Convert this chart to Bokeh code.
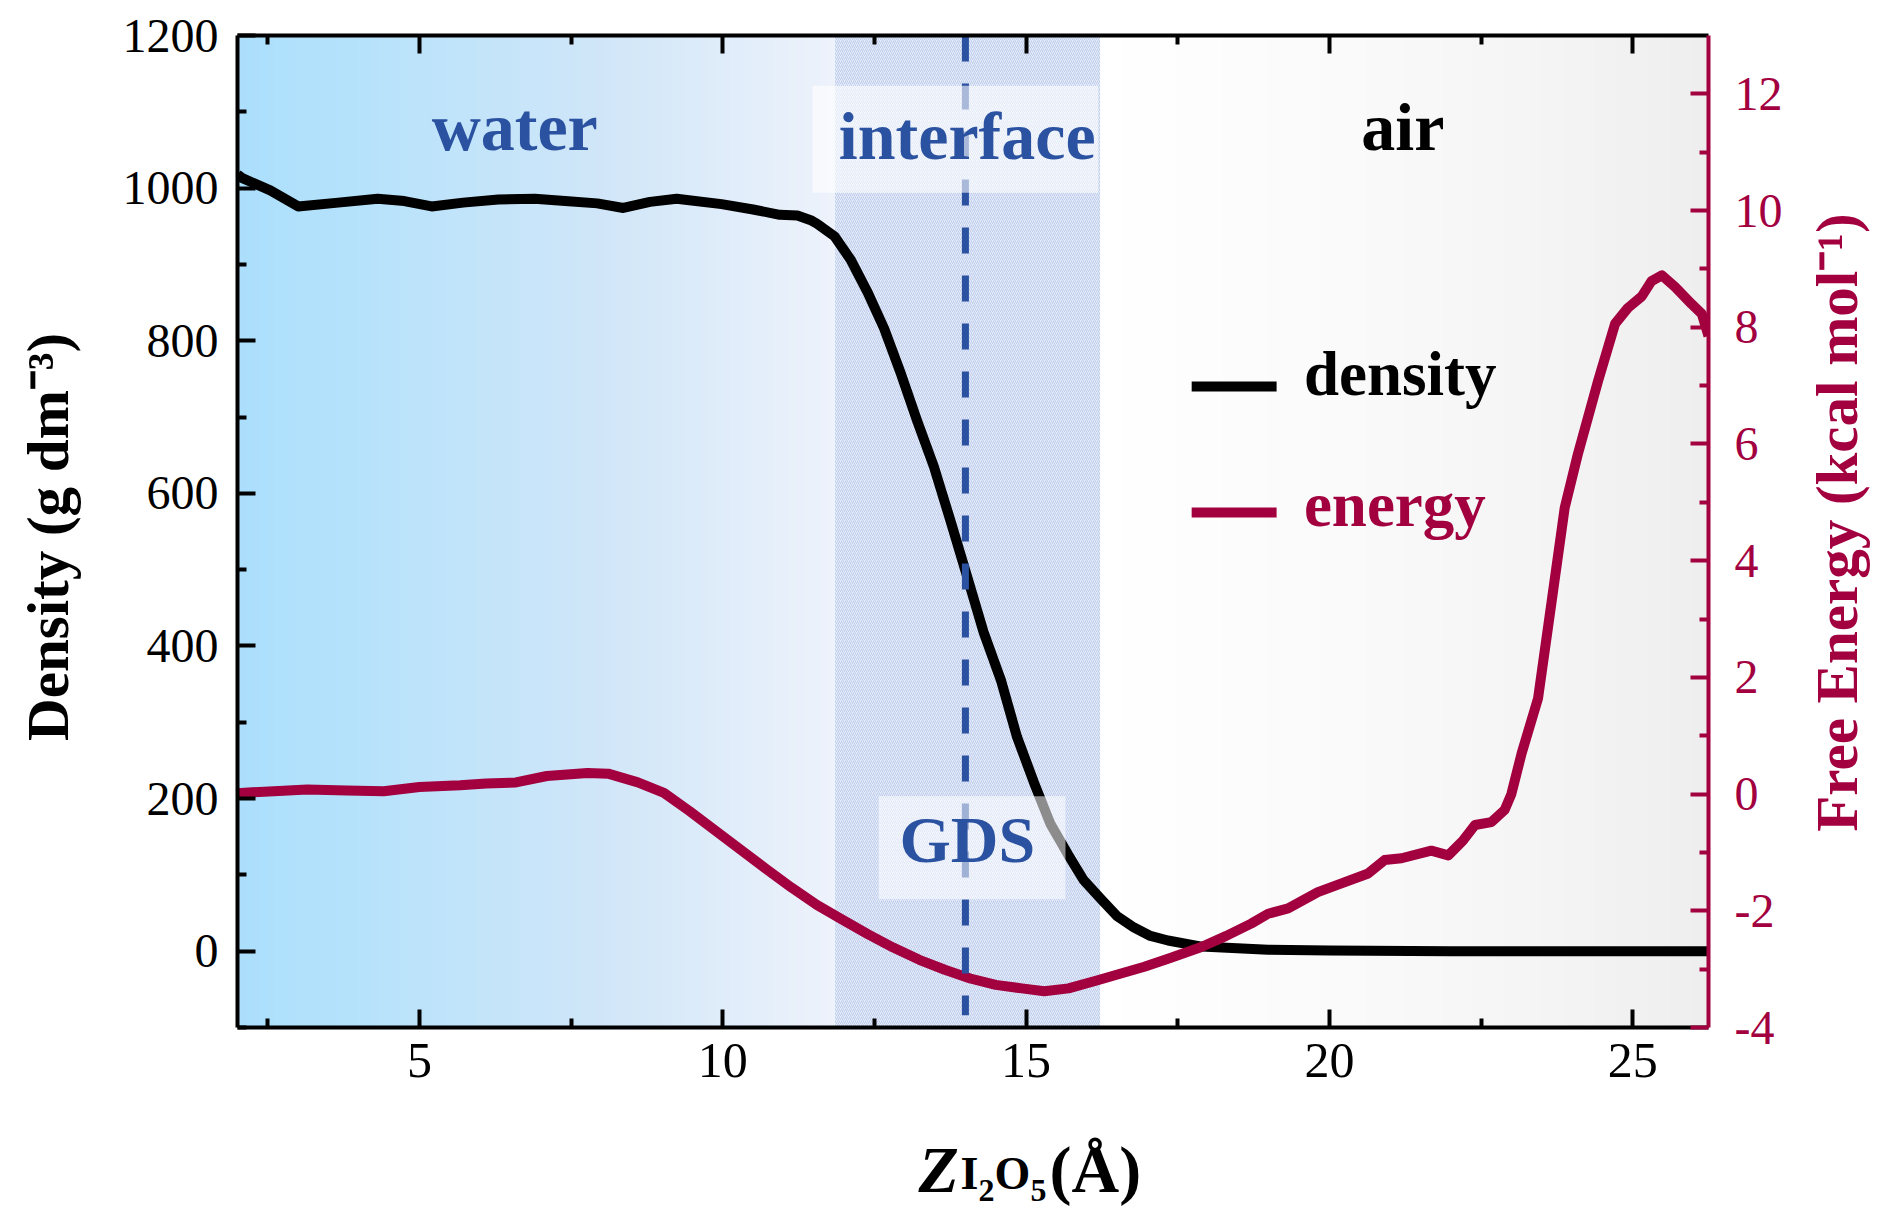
import numpy as np
from math import pi
from bokeh.plotting import figure
from bokeh.layouts import column, row
from bokeh.models import Range1d, LinearAxis, FixedTicker, Label, BoxAnnotation
from bokeh.core.properties import value
from bokeh.embed import file_html
from bokeh.resources import INLINE

# density profile, g dm^-3
z_density = [2.00, 2.08, 2.54, 3.00, 3.66, 4.31, 4.75, 5.20, 5.72, 6.30, 6.90, 7.40, 7.93,
             8.36, 8.80, 9.24, 9.98, 10.50, 10.94, 11.23, 11.45, 11.56, 11.84, 12.11, 12.39,
             12.66, 12.94, 13.20, 13.48, 13.75, 14.04, 14.30, 14.59, 14.85, 15.13, 15.40,
             15.69, 15.95, 16.24, 16.50, 16.78, 17.05, 17.34, 17.89, 18.99, 20.00, 22.00,
             24.00, 26.25]
density = [1018, 1013, 997, 976, 981, 986, 983, 976, 981, 985, 986, 983, 980,
           974, 982, 986, 979, 972, 965, 964, 958, 953, 937, 906, 863,
           816, 756, 696, 635, 565, 488, 418, 354, 281, 221, 167,
           127, 93, 68, 46, 31, 20, 14, 6, 2, 1, 0,
           0, 0]

# free energy profile, kcal mol^-1
z_energy = [2.00, 2.05, 2.60, 3.15, 3.80, 4.41, 5.00, 5.67, 6.10, 6.59, 7.10, 7.77, 8.11,
            8.60, 9.03, 9.45, 9.87, 10.29, 10.71, 11.13, 11.55, 11.97, 12.39, 12.81, 13.24,
            13.66, 14.08, 14.50, 14.93, 15.30, 15.70, 16.18, 16.55, 16.95, 17.40, 17.89,
            18.30, 18.71, 18.99, 19.32, 19.81, 20.20, 20.64, 20.91, 21.19, 21.68, 21.96,
            22.20, 22.40, 22.67, 22.89, 23.00, 23.17, 23.44, 23.66, 23.88, 24.10, 24.43,
            24.71, 24.92, 25.15, 25.31, 25.48, 25.70, 25.97, 26.14, 26.25]
energy = [0.02, 0.02, 0.05, 0.08, 0.06, 0.05, 0.12, 0.15, 0.18, 0.20, 0.31, 0.36, 0.35,
          0.20, 0.02, -0.29, -0.62, -0.95, -1.28, -1.60, -1.90, -2.15, -2.40, -2.63, -2.84,
          -3.01, -3.16, -3.27, -3.33, -3.38, -3.33, -3.19, -3.08, -2.96, -2.80, -2.62,
          -2.43, -2.22, -2.05, -1.96, -1.68, -1.53, -1.36, -1.13, -1.10, -0.97, -1.05,
          -0.80, -0.53, -0.48, -0.27, 0.00, 0.70, 1.64, 3.27, 4.91, 5.84, 7.08,
          8.06, 8.33, 8.53, 8.79, 8.89, 8.69, 8.40, 8.23, 7.85]

gds_z = 14.0
interface_z = (11.85, 16.22)
x_ticks = [5, 10, 15, 20, 25]
x_minor = [2.5, 7.5, 12.5, 17.5, 22.5]
d_ticks = [0, 200, 400, 600, 800, 1000, 1200]
d_minor = [-100, 100, 300, 500, 700, 900, 1100]
e_ticks = [-4, -2, 0, 2, 4, 6, 8, 10, 12]
e_minor = [-3, -1, 1, 3, 5, 7, 9, 11]

FONT = "Liberation Serif"
CRIMSON = "#a3003f"
BLUE = "#2b52a0"
LW, PW, RW = 100, 1700, 88   # left strip, plot, right strip widths
PH, BH = 1110, 100           # plot height, x title strip height
SHIFT = 25                   # text baseline correction, px

water_stops = [(2.0, "#abdffc"), (4.0, "#b6e2fb"), (8.0, "#d0e6f8"), (11.85, "#edf2fb")]
air_stops = [(16.22, "#ffffff"), (21.0, "#f9f9f9"), (23.7, "#f4f4f4"), (26.25, "#eeeeee")]


def hex_rgb(c):
    return np.array([int(c[i:i + 2], 16) for i in (1, 3, 5)], dtype=float)


def gradient(stops, n=80):
    xs = np.linspace(stops[0][0], stops[-1][0], n + 1)
    sx = [s[0] for s in stops]
    rgb = np.array([hex_rgb(s[1]) for s in stops])
    mids = (xs[:-1] + xs[1:]) / 2
    cols = []
    for m in mids:
        c = [np.interp(m, sx, rgb[:, k]) for k in range(3)]
        cols.append("#%02x%02x%02x" % tuple(int(round(v)) for v in c))
    return xs[:-1], xs[1:], cols


p = figure(width=PW, height=PH, x_range=(2, 26.25), y_range=(-100, 1200),
           output_backend="svg", toolbar_location=None,
           min_border_left=237 - LW, min_border_right=LW + PW - 1708,
           min_border_top=35, min_border_bottom=PH - 1027)
p.extra_y_ranges = {"energy": Range1d(-4, 13)}
p.xgrid.grid_line_color = None
p.ygrid.grid_line_color = None
p.outline_line_color = None

for stops in (water_stops, air_stops):
    l, r, c = gradient(stops)
    p.quad(left=l, right=r, top=1200, bottom=-100, fill_color=c, line_color=c, line_width=1)

p.quad(left=interface_z[0], right=interface_z[1], top=1200, bottom=-100,
       fill_color="#e6edf9", hatch_pattern="/", hatch_color="#bccbec",
       hatch_scale=4, hatch_weight=1, line_color=None)

p.line(z_density, density, line_width=10, color="black", line_join="round")
p.line(z_energy, energy, y_range_name="energy", line_width=10, color=CRIMSON, line_join="round")
p.segment(x0=[gds_z], y0=[1200], x1=[gds_z], y1=[-84], line_color=BLUE,
          line_width=7, line_dash="26 22")


def style_axis(ax, color="black", size="48px"):
    ax.axis_line_width = 4
    ax.axis_line_color = color
    ax.major_tick_line_width = 4
    ax.minor_tick_line_width = 4
    ax.major_tick_line_color = color
    ax.minor_tick_line_color = color
    ax.major_tick_in = 18
    ax.major_tick_out = 0
    ax.minor_tick_in = 9
    ax.minor_tick_out = 0
    ax.major_label_text_font = FONT
    ax.major_label_text_font_size = size
    ax.major_label_text_color = color


p.xaxis.ticker = FixedTicker(ticks=x_ticks, minor_ticks=x_minor)
style_axis(p.xaxis[0], size="50px")
p.xaxis.major_label_standoff = 16

p.yaxis.ticker = FixedTicker(ticks=d_ticks, minor_ticks=d_minor)
style_axis(p.yaxis[0])
p.yaxis.major_label_standoff = 19

top = LinearAxis(ticker=FixedTicker(ticks=x_ticks, minor_ticks=x_minor))
style_axis(top)
top.major_label_text_font_size = "10px"
top.major_label_text_color = None
top.major_label_standoff = 0
p.add_layout(top, "above")

right = LinearAxis(y_range_name="energy", ticker=FixedTicker(ticks=e_ticks, minor_ticks=e_minor))
style_axis(right, color=CRIMSON)
right.major_label_standoff = 26
right.major_label_overrides = {-4: "-4", -2: "-2"}
p.add_layout(right, "right")

p.add_layout(BoxAnnotation(left=11.48, right=16.19, top=1134, bottom=994,
                           fill_color="white", fill_alpha=0.6, line_color=None))
p.add_layout(BoxAnnotation(left=12.57, right=15.65, top=203, bottom=68,
                           fill_color="white", fill_alpha=0.55, line_color=None))


def label(x, y, text, size, color="black", align="left"):
    p.add_layout(Label(x=x, y=y, y_offset=SHIFT, text=text, text_font=FONT, text_font_size=size,
                       text_font_style="bold", text_color=color, text_align=align,
                       text_baseline="alphabetic"))


label(6.57, 1046.7, "water", "68px", BLUE, align="center")
label(14.03, 1036, "interface", "68px", BLUE, align="center")
label(21.21, 1046.7, "air", "68px", align="center")
label(14.03, 113.5, "GDS", "66px", BLUE, align="center")

# legend
p.segment(x0=[17.73], y0=[740], x1=[19.13], y1=[740], line_color="black", line_width=10)
p.segment(x0=[17.73], y0=[575], x1=[19.13], y1=[575], line_color=CRIMSON, line_width=10)
label(19.58, 724, "density", "63px")
label(19.58, 552, "energy", "63px", CRIMSON)


# title strips, coordinates in pixels from each strip's top-left corner
def strip(w, h):
    s = figure(width=w, height=h, x_range=Range1d(0, w), y_range=Range1d(h, 0),
               output_backend="svg", toolbar_location=None, min_border=0,
               x_axis_type=None, y_axis_type=None)
    s.xgrid.grid_line_color = None
    s.ygrid.grid_line_color = None
    s.outline_line_color = None
    return s


def piece(s, x, y, text, size, color="black", style="bold", align="left", angle=0.0):
    s.text(x=[x], y=[y], text=[text], text_font=value(FONT), text_font_size=size,
           text_font_style=style, text_color=color, text_align=align,
           text_baseline="alphabetic", angle=angle)


left_t = strip(LW, PH)
piece(left_t, 72 - SHIFT, 561, "Density (g dm\u207b\u00b3)", "59px", align="center", angle=pi / 2)

right_t = strip(RW, PH)
piece(right_t, 1861 - LW - PW - SHIFT, 545, "Free Energy (kcal mol\u207b\u00b9)", "59px",
      CRIMSON, align="center", angle=pi / 2)

bottom_t = strip(LW + PW + RW, BH)
piece(bottom_t, 918, 84 - SHIFT, "Z", "66px", style="bold italic")
piece(bottom_t, 960, 84 - 21, "I", "46px")
piece(bottom_t, 978, 98 - 18, "2", "32px")
piece(bottom_t, 994, 84 - 21, "O", "46px")
piece(bottom_t, 1030, 98 - 18, "5", "32px")
piece(bottom_t, 1049, 84 - SHIFT, "(Å)", "66px")

layout = column(row(left_t, p, right_t), bottom_t)
open("out.html", "w").write(file_html(layout, INLINE))
